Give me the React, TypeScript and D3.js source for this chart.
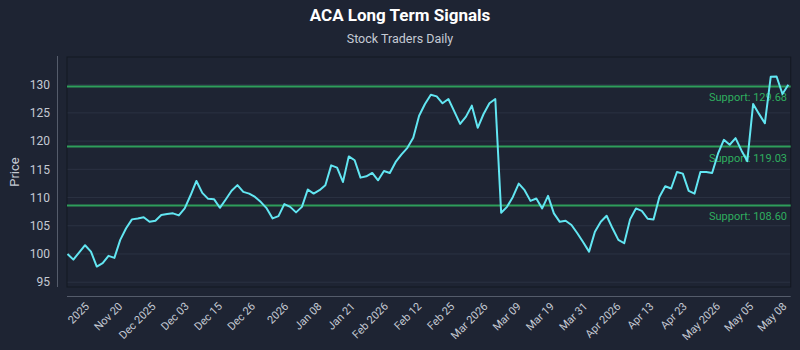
import React, { useEffect, useRef } from 'react';
import * as d3 from 'd3';

// closing prices, one per session
const prices = [
  100.0, 99.0, 100.3, 101.55, 100.42, 97.78, 98.38, 99.67, 99.31, 102.5,
  104.55, 106.13, 106.3, 106.5, 105.7, 105.9, 106.9, 107.07, 107.2, 106.84,
  108.07, 110.4, 112.94, 110.82, 109.77, 109.71, 108.18, 109.66, 111.2, 112.2,
  111.0, 110.7, 110.1, 109.2, 108.07, 106.3, 106.7, 108.83, 108.35, 107.37,
  108.35, 111.42, 110.7, 111.3, 112.18, 115.7, 115.3, 112.76, 117.29, 116.6,
  113.53, 113.77, 114.35, 113.06, 114.7, 114.35, 116.3, 117.64, 118.8, 120.58,
  124.5, 126.58, 128.22, 127.92, 126.7, 127.46, 125.27, 123.05, 124.34, 126.28,
  122.35, 124.8, 126.7, 127.46, 107.3, 108.35, 110.1, 112.48, 111.3, 109.41,
  109.83, 108.07, 110.3, 107.2, 105.7, 105.9, 105.13, 103.67, 102.08, 100.42,
  103.95, 105.7, 106.77, 104.55, 102.5, 101.9, 106.13, 108.07, 107.65, 106.24,
  106.13, 110.1, 112.0, 111.6, 114.52, 114.24, 111.17, 110.7, 114.52, 114.52,
  114.35, 117.77, 120.23, 119.35, 120.52, 118.35, 116.46, 126.58, 124.82, 123.16,
  131.39, 131.44, 128.34, 129.98,
];

const supports = [129.68, 119.03, 108.6];

const tickLabels = [
  '2025', 'Nov 20', 'Dec 2025', 'Dec 03', 'Dec 15', 'Dec 26', '2026', 'Jan 08',
  'Jan 21', 'Feb 2026', 'Feb 12', 'Feb 25', 'Mar 2026', 'Mar 09', 'Mar 19',
  'Mar 31', 'Apr 2026', 'Apr 13', 'Apr 23', 'May 2026', 'May 05', 'May 08',
];
// position of each label along the series (session index)
const tickIdx = [
  4, 9.67, 15.33, 21, 26.67, 32.33, 38, 43.67, 49.33, 55, 60.67,
  66.33, 72, 77.67, 83.33, 89, 94.67, 100.33, 106, 111.67, 117.33, 123,
];

const yTicks = [95, 100, 105, 110, 115, 120, 125, 130];

const App = () => {
  const svgRef = useRef<SVGSVGElement>(null);

  useEffect(() => {
    document.body.style.margin = '0';
    document.body.style.background = '#1e2433';

    const width = 800;
    const height = 350;
    const left = 67, right = 790.7, top = 57, bottom = 287;
    const font = 'Roboto, "Open Sans", sans-serif';

    const svg = d3.select(svgRef.current)
      .attr('width', width)
      .attr('height', height)
      .style('display', 'block')
      .style('background', '#1e2433');
    svg.selectAll('*').remove();

    const x = d3.scaleLinear().domain([0, prices.length - 1]).range([67.5, 788.3]);
    const y = d3.scaleLinear().domain([94.15, 134.9]).range([bottom, top]);

    // title
    svg.append('text')
      .attr('x', width / 2).attr('y', 21)
      .attr('text-anchor', 'middle')
      .style('font-family', font).style('font-weight', 'bold').style('font-size', '17px')
      .style('fill', '#ffffff')
      .text('ACA Long Term Signals');

    svg.append('text')
      .attr('x', width / 2).attr('y', 43)
      .attr('text-anchor', 'middle')
      .style('font-family', font).style('font-size', '12.5px')
      .style('fill', '#c5cad3')
      .text('Stock Traders Daily');

    // grid
    svg.append('g').selectAll('line')
      .data(yTicks)
      .enter().append('line')
      .attr('x1', left).attr('x2', right)
      .attr('y1', d => y(d)).attr('y2', d => y(d))
      .attr('stroke', '#2b3243').attr('stroke-width', 1);

    // frame
    svg.append('rect')
      .attr('x', left).attr('y', top)
      .attr('width', right - left).attr('height', bottom - top)
      .attr('fill', 'none').attr('stroke', '#131822').attr('stroke-width', 1);

    // axis lines
    svg.append('line')
      .attr('x1', 57.5).attr('x2', 57.5).attr('y1', top - 1).attr('y2', bottom)
      .attr('stroke', '#555c6b');
    svg.append('line')
      .attr('x1', left).attr('x2', right).attr('y1', 296.5).attr('y2', 296.5)
      .attr('stroke', '#555c6b');

    // y tick labels
    svg.append('g').selectAll('text')
      .data(yTicks)
      .enter().append('text')
      .attr('x', 50).attr('y', d => y(d))
      .attr('dy', '0.35em')
      .attr('text-anchor', 'end')
      .style('font-family', font).style('font-size', '12px')
      .style('fill', '#c5cad3')
      .text(d => d);

    svg.append('text')
      .attr('transform', `translate(19,${(top + bottom) / 2}) rotate(-90)`)
      .attr('text-anchor', 'middle')
      .style('font-family', font).style('font-size', '13px')
      .style('fill', '#c5cad3')
      .text('Price');

    // x tick labels
    svg.append('g').selectAll('text')
      .data(tickLabels)
      .enter().append('text')
      .attr('transform', (d, i) => `translate(${x(tickIdx[i]) - 1},307) rotate(-45)`)
      .attr('text-anchor', 'end')
      .style('font-family', font).style('font-size', '11px')
      .style('fill', '#c5cad3')
      .text(d => d);

    // support levels
    const sup = svg.append('g');
    sup.selectAll('line')
      .data(supports)
      .enter().append('line')
      .attr('x1', left).attr('x2', right)
      .attr('y1', d => y(d)).attr('y2', d => y(d))
      .attr('stroke', '#2e9e5b').attr('stroke-width', 2);
    sup.selectAll('text')
      .data(supports)
      .enter().append('text')
      .attr('x', 787).attr('y', d => y(d) + 15)
      .attr('text-anchor', 'end')
      .style('font-family', font).style('font-size', '11px')
      .style('fill', '#2fae5f')
      .text(d => `Support: ${d.toFixed(2)}`);

    // price line
    const line = d3.line<number>()
      .x((d, i) => x(i))
      .y(d => y(d));

    svg.append('path')
      .datum(prices)
      .attr('d', line)
      .attr('fill', 'none')
      .attr('stroke', '#62e6f2')
      .attr('stroke-width', 2)
      .attr('stroke-linejoin', 'round');
  });

  return <svg ref={svgRef}></svg>;
};

export default App;
